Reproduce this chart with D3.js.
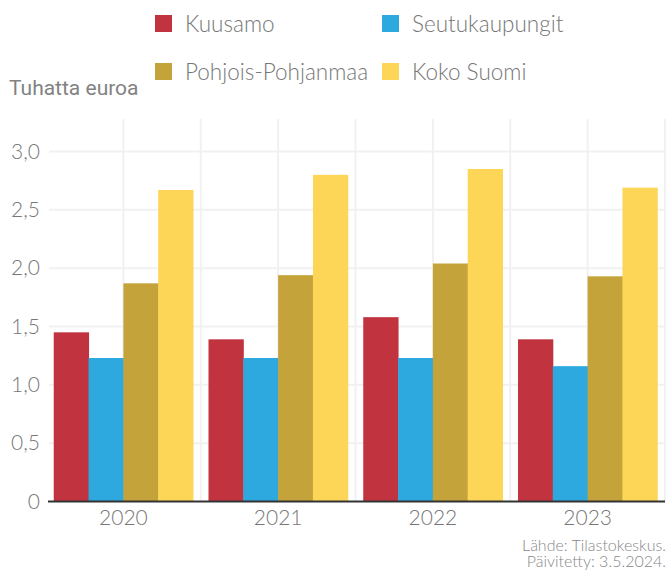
<!DOCTYPE html>
<html>
<head>
<meta charset="utf-8">
<script src="https://cdn.jsdelivr.net/npm/d3@7"></script>
<style>
  body { margin: 0; background: #fff; }
  svg { display: block; }
</style>
</head>
<body>
<svg></svg>
<script>
// Data (thousand euros)
let years = ["2020", "2021", "2022", "2023"];
let seriesNames = ["Kuusamo", "Seutukaupungit", "Pohjois-Pohjanmaa", "Koko Suomi"];
let kuusamo = [1.45, 1.39, 1.58, 1.39];
let seutukaupungit = [1.23, 1.23, 1.23, 1.16];
let pohjoisPohjanmaa = [1.87, 1.94, 2.04, 1.93];
let kokoSuomi = [2.67, 2.80, 2.85, 2.69];
let colors = ["#c1343f", "#2ea9df", "#c4a33a", "#fed657"];
let yTicks = [0, 0.5, 1, 1.5, 2, 2.5, 3];

let allSeries = [kuusamo, seutukaupungit, pohjoisPohjanmaa, kokoSuomi];

let width = 669;
let height = 570;
let plotLeft = 46, plotRight = 665, plotTop = 119, plotBottom = 501.5;

let svg = d3.select("svg").attr("width", width).attr("height", height);

let xScale = d3.scaleBand()
    .domain(years)
    .range([plotLeft, plotRight])
    .paddingInner(0.1)
    .paddingOuter(0.05);

let xInner = d3.scaleBand()
    .domain(seriesNames)
    .range([0, xScale.bandwidth()]);

let yScale = d3.scaleLinear()
    .domain([0, 3])
    .range([plotBottom, 151.5]);

let grid = "#f1f1f1";

// horizontal grid lines
svg.append("g")
    .selectAll("line")
    .data(yTicks.slice(1))
    .enter()
    .append("line")
    .attr("x1", 49)
    .attr("x2", plotRight)
    .attr("y1", (d) => yScale(d))
    .attr("y2", (d) => yScale(d))
    .attr("stroke", grid)
    .attr("stroke-width", 2);

// vertical grid lines: band centres and boundaries between bands
let vLines = [];
years.forEach((yr) => {
    vLines.push(xScale(yr) + xScale.bandwidth() / 2);
    vLines.push(xScale(yr) + xScale.bandwidth() + xScale.step() * xScale.paddingInner() / 2);
});
svg.append("g")
    .selectAll("line")
    .data(vLines)
    .enter()
    .append("line")
    .attr("x1", (d) => d)
    .attr("x2", (d) => d)
    .attr("y1", plotTop)
    .attr("y2", plotBottom)
    .attr("stroke", grid)
    .attr("stroke-width", 2);

// bars
let rows = [];
years.forEach((yr, i) => {
    seriesNames.forEach((name, j) => {
        rows.push({ year: yr, name: name, value: allSeries[j][i], color: colors[j] });
    });
});

svg.append("g")
    .selectAll("rect")
    .data(rows)
    .enter()
    .append("rect")
    .attr("x", (d) => xScale(d.year) + xInner(d.name))
    .attr("width", xInner.bandwidth() + 0.5)
    .attr("y", (d) => yScale(d.value))
    .attr("height", (d) => yScale(0) - yScale(d.value))
    .attr("fill", (d) => d.color);

// y axis labels
let yAxis = d3.axisLeft(yScale)
    .tickValues(yTicks)
    .tickSize(0)
    .tickPadding(0)
    .tickFormat((d) => d === 0 ? "0" : d3.format(".1f")(d).replace(".", ","));

let yg = svg.append("g")
    .attr("transform", "translate(40,0)")
    .call(yAxis);
yg.select(".domain").remove();
yg.selectAll("text")
    .attr("fill", "#777")
    .style("font-family", "Lato")
    .style("font-weight", 300)
    .style("font-size", "21px");

// x axis
let xAxis = d3.axisBottom(xScale).tickSize(0).tickPadding(9);
let xg = svg.append("g")
    .attr("transform", "translate(0," + plotBottom + ")")
    .call(xAxis);
xg.select(".domain")
    .attr("stroke", "#333")
    .attr("stroke-width", 2)
    .attr("d", "M" + (plotLeft + 2) + ",0H" + plotRight);
xg.selectAll("text")
    .attr("fill", "#777")
    .style("font-family", "Lato")
    .style("font-weight", 300)
    .style("font-size", "21px");

// axis title
svg.append("text")
    .attr("x", 9)
    .attr("y", 95)
    .attr("fill", "#828282")
    .style("font-family", "Roboto")
    .style("font-weight", 400)
    .style("font-size", "21px")
    .text("Tuhatta euroa");

// legend
let legendX = [155, 382];
let legendY = [23, 71];
let legend = svg.append("g")
    .selectAll("g")
    .data(seriesNames)
    .enter()
    .append("g")
    .attr("transform", (d, i) => "translate(" + legendX[i % 2] + "," + legendY[Math.floor(i / 2)] + ")");
legend.append("rect")
    .attr("x", 0)
    .attr("y", -8)
    .attr("width", 17)
    .attr("height", 17)
    .attr("fill", (d, i) => colors[i]);
legend.append("text")
    .attr("x", 30)
    .attr("y", 8.5)
    .attr("fill", "#777")
    .style("font-family", "Lato")
    .style("font-weight", 300)
    .style("font-size", "22.5px")
    .text((d) => d);

// source
let source = ["Lähde: Tilastokeskus.", "Päivitetty: 3.5.2024."];
svg.append("g")
    .selectAll("text")
    .data(source)
    .enter()
    .append("text")
    .attr("x", 666)
    .attr("y", (d, i) => 551 + i * 16)
    .attr("text-anchor", "end")
    .attr("fill", "#888")
    .style("font-family", "Lato")
    .style("font-weight", 300)
    .style("font-size", "16px")
    .text((d) => d);
</script>
</body>
</html>
